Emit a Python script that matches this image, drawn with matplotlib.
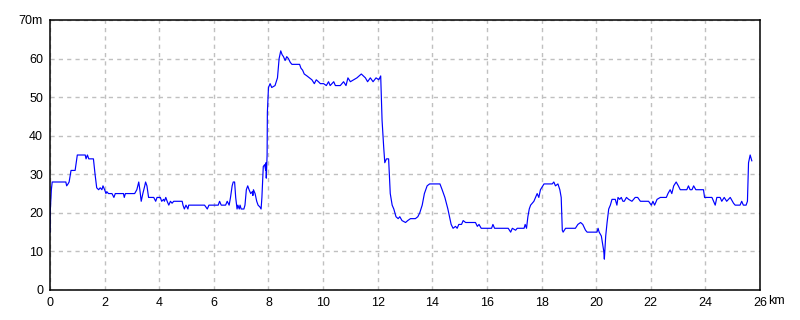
import matplotlib.pyplot as plt

# elevation profile, distance in km and elevation in m
dist_km = [0.00, 0.01, 0.05, 0.08, 0.58, 0.61, 0.66, 0.70, 0.77, 0.92, 0.96, 1.00,
           1.29, 1.32, 1.37, 1.42, 1.59, 1.65, 1.71, 1.78, 1.84, 1.90, 1.94, 2.00,
           2.05, 2.08, 2.14, 2.27, 2.34, 2.39, 2.69, 2.72, 2.76, 3.10, 3.18, 3.25,
           3.29, 3.34, 3.40, 3.47, 3.50, 3.55, 3.61, 3.80, 3.87, 3.92, 4.04, 4.09,
           4.16, 4.19, 4.24, 4.29, 4.35, 4.41, 4.47, 4.53, 4.84, 4.87, 4.92, 4.98,
           5.05, 5.08, 5.66, 5.76, 5.82, 6.16, 6.21, 6.27, 6.43, 6.49, 6.56, 6.61,
           6.67, 6.71, 6.76, 6.80, 6.85, 6.88, 6.93, 6.96, 7.00, 7.10, 7.14, 7.19,
           7.24, 7.29, 7.35, 7.41, 7.43, 7.45, 7.51, 7.57, 7.62, 7.69, 7.73, 7.76,
           7.81, 7.86, 7.90, 7.91, 7.92, 7.95, 7.96, 8.00, 8.06, 8.12, 8.24, 8.33,
           8.39, 8.45, 8.50, 8.55, 8.61, 8.67, 8.73, 8.80, 8.86, 9.14, 9.19, 9.25,
           9.31, 9.41, 9.50, 9.59, 9.68, 9.75, 9.83, 9.90, 10.02, 10.12, 10.20, 10.26,
           10.39, 10.45, 10.63, 10.75, 10.84, 10.91, 11.00, 11.12, 11.24, 11.40, 11.55, 11.63,
           11.73, 11.83, 11.94, 12.04, 12.11, 12.16, 12.22, 12.26, 12.32, 12.40, 12.46, 12.53,
           12.59, 12.67, 12.75, 12.81, 12.89, 13.02, 13.10, 13.20, 13.38, 13.47, 13.54, 13.63,
           13.71, 13.81, 13.90, 14.28, 14.36, 14.46, 14.57, 14.69, 14.76, 14.85, 14.91, 14.97,
           15.07, 15.13, 15.22, 15.58, 15.65, 15.71, 15.79, 16.17, 16.22, 16.28, 16.78, 16.87,
           16.93, 17.05, 17.11, 17.36, 17.40, 17.45, 17.50, 17.55, 17.60, 17.72, 17.78, 17.84,
           17.90, 17.96, 18.09, 18.39, 18.45, 18.51, 18.60, 18.67, 18.72, 18.76, 18.79, 18.88,
           19.24, 19.33, 19.43, 19.51, 19.61, 19.67, 20.03, 20.07, 20.11, 20.19, 20.28, 20.30,
           20.35, 20.40, 20.46, 20.52, 20.58, 20.70, 20.76, 20.80, 20.86, 20.92, 20.98, 21.03,
           21.11, 21.19, 21.31, 21.43, 21.52, 21.62, 21.92, 22.02, 22.08, 22.14, 22.23, 22.35,
           22.57, 22.63, 22.71, 22.77, 22.84, 22.93, 23.01, 23.08, 23.32, 23.38, 23.44, 23.51,
           23.57, 23.65, 23.93, 23.97, 24.24, 24.30, 24.36, 24.42, 24.54, 24.60, 24.69, 24.78,
           24.91, 25.03, 25.09, 25.27, 25.33, 25.39, 25.49, 25.54, 25.58, 25.64, 25.70]
elev_m = [15, 20.5, 26, 28, 28, 27, 27.5, 28, 31, 31, 33, 35,
          35, 34, 35, 34, 34, 30, 26.5, 26, 26.5, 26, 27, 26,
          25, 25.5, 25, 25, 24, 25, 25, 24, 25, 25, 26, 28,
          26, 23, 25, 27, 28, 27, 24, 24, 23, 24, 24, 23,
          23.5, 23, 24, 23, 22, 23, 22.5, 23, 23, 22, 21, 22,
          21, 22, 22, 21, 22, 22, 23, 22, 22, 23, 22, 24,
          27, 28, 28, 24, 21, 22, 21, 22, 21, 21, 22, 26,
          27, 26, 25, 25.5, 24.5, 26, 25, 23, 22, 21.5, 21, 24,
          32, 32.5, 31, 33, 29, 35, 46, 52.5, 53.5, 52.5, 53, 55,
          60, 62, 61, 60.5, 59.5, 60.5, 60, 59, 58.5, 58.5, 57.5, 57,
          56, 55.5, 55, 54.5, 53.5, 54.5, 54, 53.5, 53.5, 53, 54, 53,
          54, 53, 53, 54, 53, 55, 54, 54.5, 55, 56, 55, 54,
          55, 54, 55, 54.5, 55.5, 44, 37, 33, 34, 34, 25, 22,
          21, 19, 18.5, 19, 18, 17.5, 18, 18.5, 18.5, 19, 20, 22,
          25, 27, 27.5, 27.5, 26, 24, 21, 17, 16, 16.5, 16, 17,
          17, 18, 17.5, 17.5, 16.5, 17, 16, 16, 17, 16, 16, 15,
          16, 15.5, 16, 16, 17, 16, 19, 21, 22, 23, 24, 25,
          24, 26, 27.5, 27.5, 28, 27, 27.5, 26, 24, 15.5, 15, 16,
          16, 17, 17.5, 17, 15.5, 15, 15, 16, 15, 14, 10, 8,
          14, 17.5, 21, 22, 23.5, 23.5, 22, 24, 23.5, 24, 23, 23,
          24, 23.5, 23, 24, 24, 23, 23, 22, 23, 22, 23.5, 24,
          24, 25, 26, 25, 27, 28, 27, 26, 26, 27, 26, 26,
          27, 26, 26, 24, 24, 23, 22, 24, 24, 23, 24, 23,
          24, 22.5, 22, 22, 23, 22, 22, 23, 33, 35, 33.5]

x_ticks = [0, 2, 4, 6, 8, 10, 12, 14, 16, 18, 20, 22, 24, 26]
x_labels = ["0", "2", "4", "6", "8", "10", "12", "14", "16", "18", "20", "22", "24", "26"]
y_ticks = [0, 10, 20, 30, 40, 50, 60, 70]
y_labels = ["0", "10", "20", "30", "40", "50", "60", "70m"]

plt.rcParams['font.family'] = ['Liberation Sans', 'DejaVu Sans']

fig = plt.figure(figsize=(8, 3.2), dpi=100)
ax = fig.add_axes([0.0625, 0.09375, 0.8875, 0.84375])

ax.plot(dist_km, elev_m, color="#0000ff", linewidth=0.85)

ax.set_xlim(0, 26)
ax.set_ylim(0, 70)
ax.set_xticks(x_ticks)
ax.set_xticklabels(x_labels)
ax.set_yticks(y_ticks)
ax.set_yticklabels(y_labels)
ax.tick_params(length=0, labelsize=9, pad=5)
ax.grid(True, color="#c0c0c0", linestyle=(0, (3, 3)), linewidth=1)
ax.set_axisbelow(True)
for s in ax.spines.values():
    s.set_linewidth(1.1)

# unit right after the "26" tick label
ax.annotate("km", xy=(1.0, 0.0), xycoords="axes fraction",
            xytext=(5.5, -3.6), textcoords="offset points",
            ha="left", va="top", fontsize=9)

fig.savefig("out.png", dpi=100)
